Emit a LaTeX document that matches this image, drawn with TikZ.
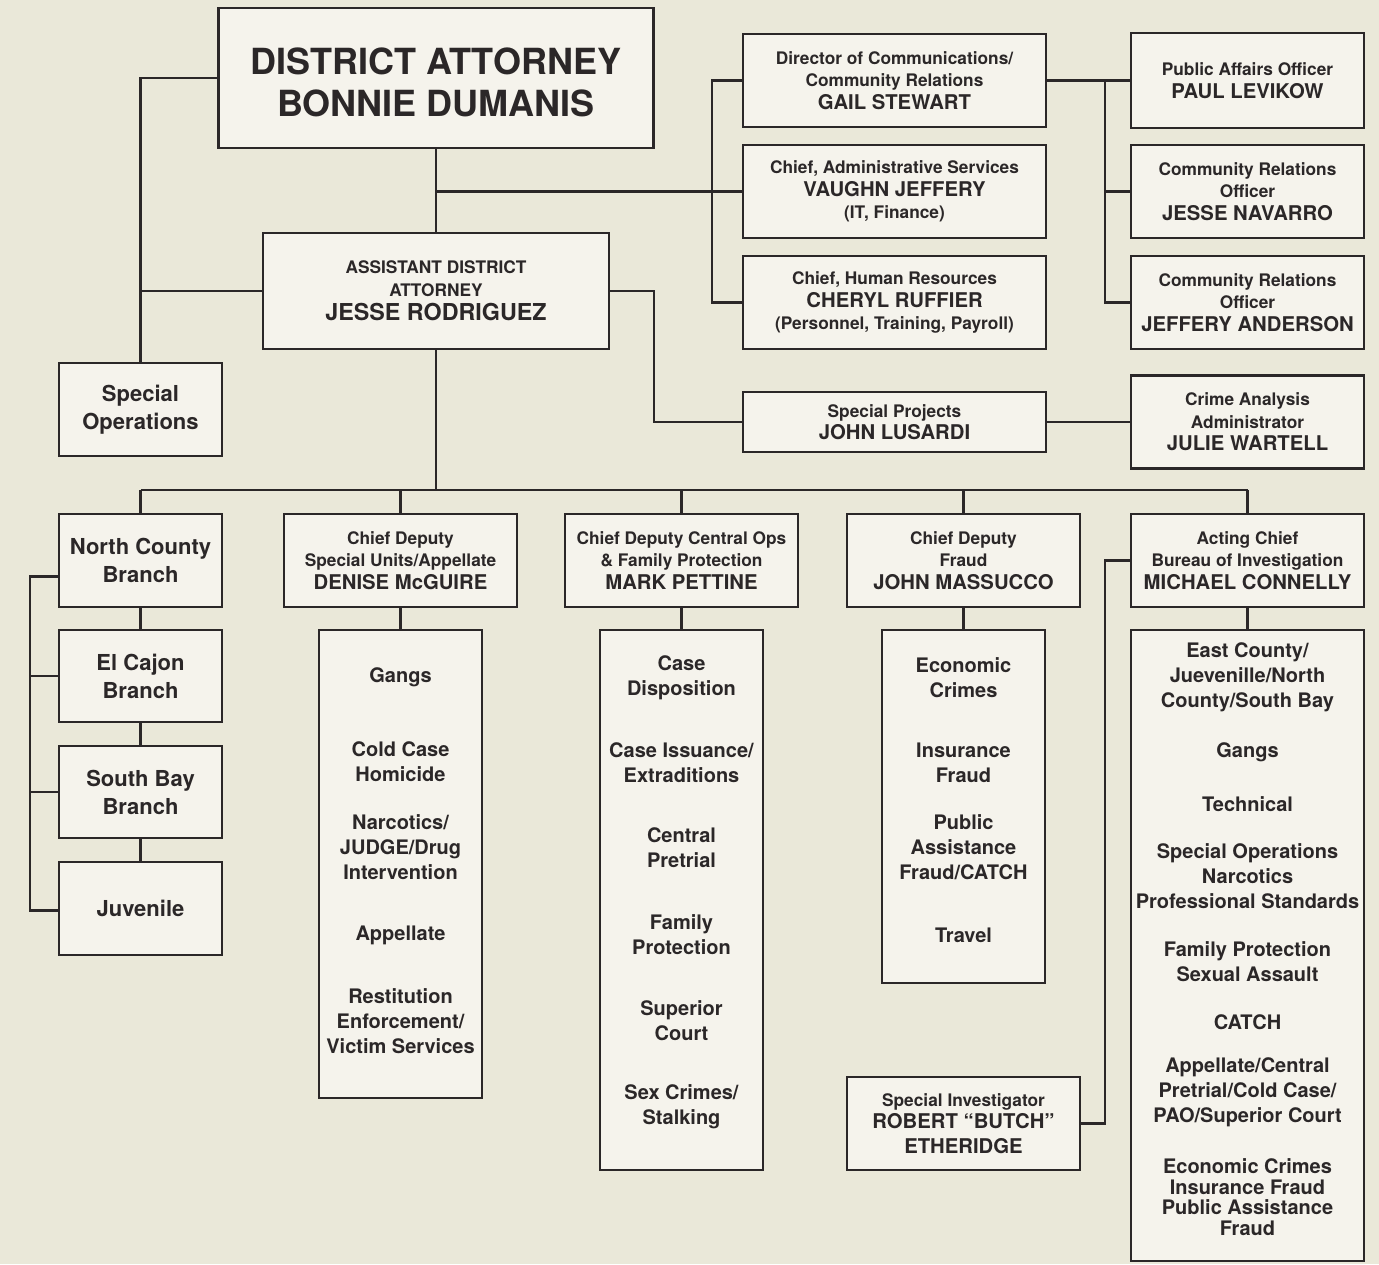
\documentclass[tikz,border=0pt]{standalone}
\usepackage{fontspec}
\setmainfont{TeX Gyre Heros}
\usetikzlibrary{positioning}
\definecolor{bgc}{HTML}{EAE8D9}
\definecolor{boxc}{HTML}{F5F3EC}
\definecolor{linec}{HTML}{2B2728}
\newcommand{\rolef}{\fontsize{17.3}{22.5}\selectfont}
\newcommand{\namef}{\fontsize{20.3}{23}\selectfont}
\newcommand{\unitf}{\fontsize{20}{25}\selectfont}
\newcommand{\branchf}{\fontsize{22}{28}\selectfont}

\tikzset{
  box/.style={draw=linec, fill=boxc, line width=2.2pt, align=center, inner sep=0pt, text=linec, font=\bfseries\rolef},
  branchbox/.style={box, font=\bfseries\branchf},
  wire/.style={draw=linec, line width=2.2pt},
  unit/.style={align=center, inner sep=0pt, text=linec, font=\bfseries\unitf}
}

\begin{document}
\begin{tikzpicture}[x=1pt, y=-1pt]
  \fill[bgc] (0,0) rectangle (1379,1264);
  \useasboundingbox (0,0) rectangle (1379,1264);
  % top of the tree
  \begin{scope}[every node/.append style={box}]
  \path (436,78) node[minimum width=435pt, minimum height=140pt, text height=78pt,
      font=\bfseries\fontsize{36}{42}\selectfont] (da)
    {DISTRICT ATTORNEY\\BONNIE DUMANIS};
  \path (436,291) node[minimum width=346pt, minimum height=116pt] (ada)
    {ASSISTANT DISTRICT\\ATTORNEY\\[2pt]\fontsize{23.3}{26}\selectfont JESSE RODRIGUEZ};
  \path (140.5,409.5) node[branchbox, minimum width=163pt, minimum height=93pt] (specops)
    {Special\\Operations};
  \path (894.5,80.5) node[minimum width=303pt, minimum height=93pt] (dircomm)
    {Director of Communications/\\Community Relations\\\namef GAIL STEWART};
  \path (894.5,191.5) node[minimum width=303pt, minimum height=93pt] (admin)
    {Chief, Administrative Services\\\namef VAUGHN JEFFERY\\(IT, Finance)};
  \path (894.5,302.5) node[minimum width=303pt, minimum height=93pt] (hr)
    {Chief, Human Resources\\\namef CHERYL RUFFIER\\(Personnel, Training, Payroll)};
  \path (1247.5,80.5) node[minimum width=233pt, minimum height=95pt] (pao)
    {Public Affairs Officer\\\namef PAUL LEVIKOW};
  \path (1247.5,191.5) node[minimum width=233pt, minimum height=93pt] (cro)
    {Community Relations\\Officer\\\namef JESSE NAVARRO};
  \path (1247.5,302.5) node[minimum width=233pt, minimum height=93pt] (crotwo)
    {Community Relations\\Officer\\\namef JEFFERY ANDERSON};
  \path (894.5,422) node[minimum width=303pt, minimum height=60pt] (projects)
    {Special Projects\\\namef JOHN LUSARDI};
  \path (1247.5,422) node[minimum width=233pt, minimum height=93pt] (crime)
    {Crime Analysis\\Administrator\\\namef JULIE WARTELL};
  % second row
  \path (140.5,560.5) node[branchbox, minimum width=163pt, minimum height=93pt] (north)
    {North County\\Branch};
  \path (400.5,560.5) node[minimum width=233pt, minimum height=93pt] (units)
    {Chief Deputy\\Special Units/Appellate\\\namef DENISE McGUIRE};
  \path (681.5,560.5) node[minimum width=233pt, minimum height=93pt] (central)
    {Chief Deputy Central Ops\\\& Family Protection\\\namef MARK PETTINE};
  \path (963.5,560.5) node[minimum width=233pt, minimum height=93pt] (fraud)
    {Chief Deputy\\Fraud\\\namef JOHN MASSUCCO};
  \path (1247.5,560.5) node[minimum width=233pt, minimum height=93pt] (bureau)
    {Acting Chief\\Bureau of Investigation\\\namef MICHAEL CONNELLY};
  \path (140.5,676) node[branchbox, minimum width=163pt, minimum height=92pt] (elcajon)
    {El Cajon\\Branch};
  \path (140.5,792) node[branchbox, minimum width=163pt, minimum height=92pt] (southbay)
    {South Bay\\Branch};
  \path (140.5,908.5) node[branchbox, minimum width=163pt, minimum height=93pt] (juvenile)
    {Juvenile};
  \path (963.5,1123.5) node[minimum width=233pt, minimum height=93pt] (investigator)
    {Special Investigator\\\namef ROBERT “BUTCH”\\[2pt]\namef ETHERIDGE};
  % unit lists
  \path (400.5,864) node[minimum width=163pt, minimum height=468pt] (unitlist) {};
  \path (681.5,900) node[minimum width=163pt, minimum height=540pt] (centrallist) {};
  \path (963.5,806.5) node[minimum width=163pt, minimum height=353pt] (fraudlist) {};
  \path (1247.5,945.5) node[minimum width=233pt, minimum height=631pt] (bureaulist) {};
  \end{scope}

  \path (400.5,677) node[unit] (ua) {Gangs};
  \path (400.5,761.5) node[unit] (ub) {Cold Case\\Homicide};
  \path (400.5,847) node[unit] (uc) {Narcotics/\\JUDGE/Drug\\Intervention};
  \path (400.5,935) node[unit] (ud) {Appellate};
  \path (400.5,1021) node[unit] (ue) {Restitution\\Enforcement/\\Victim Services};

  \path (681.5,677.5) node[unit] (ca) {Case\\Disposition};
  \path (681.5,762.5) node[unit] (cb) {Case Issuance/\\Extraditions};
  \path (681.5,848) node[unit] (cc) {Central\\Pretrial};
  \path (681.5,934.5) node[unit] (cd) {Family\\Protection};
  \path (681.5,1020.5) node[unit] (ce) {Superior\\Court};
  \path (681.5,1106.5) node[unit] (cf) {Sex Crimes/\\Stalking};

  \path (963.5,677.5) node[unit] (fa) {Economic\\Crimes};
  \path (963.5,762.5) node[unit] (fb) {Insurance\\Fraud};
  \path (963.5,847) node[unit] (fc) {Public\\Assistance\\Fraud/CATCH};
  \path (963.5,935) node[unit] (fd) {Travel};

  \path (1247.5,677.5) node[unit] (ba) {East County/\\Juevenille/North\\County/South Bay};
  \path (1247.5,752) node[unit] (bb) {Gangs};
  \path (1247.5,804) node[unit] (bc) {Technical};
  \path (1247.5,876) node[unit] (bd) {Special Operations\\Narcotics\\Professional Standards};
  \path (1247.5,961.5) node[unit] (be) {Family Protection\\Sexual Assault};
  \path (1247.5,1022) node[unit] (bf) {CATCH};
  \path (1247.5,1092) node[unit] (bg) {Appellate/Central\\Pretrial/Cold Case/\\PAO/Superior Court};
  \path (1247.5,1197) node[unit, font=\bfseries\fontsize{20}{20.7}\selectfont] (bh)
    {Economic Crimes\\Insurance Fraud\\Public Assistance\\Fraud};

  % connectors
  \coordinate (staff) at (712,0);
  \coordinate (comm) at (1105,0);
  \coordinate (assist) at (654,0);
  \coordinate (bar) at (0,490);
  \coordinate (west) at (30,0);
  \begin{scope}[wire]
    \draw (da.west) -| (specops.north);
    \draw (ada.west) -- (ada.west -| specops.north);
    \draw (da.south) -- (ada.north);
    \draw (da.south |- admin.west) -- (admin.west);
    \draw (dircomm.west) -- (dircomm.west -| staff) -- (hr.west -| staff) -- (hr.west);
    \draw (dircomm.east) -- (pao.west);
    \draw (pao.west -| comm) |- (crotwo.west);
    \draw (cro.west -| comm) -- (cro.west);
    \draw (ada.east) -- (ada.east -| assist) |- (projects.west);
    \draw (projects.east) -- (crime.west);
    \draw (ada.south) -- (ada.south |- bar);
    \draw (north.north |- bar) -- (bureau.north |- bar);
    \draw (north.north |- bar) -- (north.north);
    \draw (units.north |- bar) -- (units.north);
    \draw (central.north |- bar) -- (central.north);
    \draw (fraud.north |- bar) -- (fraud.north);
    \draw (bureau.north |- bar) -- (bureau.north);
    \draw (north.south) -- (elcajon.north);
    \draw (elcajon.south) -- (southbay.north);
    \draw (southbay.south) -- (juvenile.north);
    \draw ([yshift=-16pt]north.west) -- ([yshift=-16pt]north.west -| west)
      |- ([yshift=-2pt]juvenile.west);
    \draw (elcajon.west) -- (elcajon.west -| west);
    \draw (southbay.west) -- (southbay.west -| west);
    \draw (units.south) -- (unitlist.north);
    \draw (central.south) -- (centrallist.north);
    \draw (fraud.south) -- (fraudlist.north);
    \draw (bureau.south) -- (bureaulist.north);
    \draw (investigator.east) -- (investigator.east -| comm) |- (bureau.west);
  \end{scope}
\end{tikzpicture}
\end{document}
